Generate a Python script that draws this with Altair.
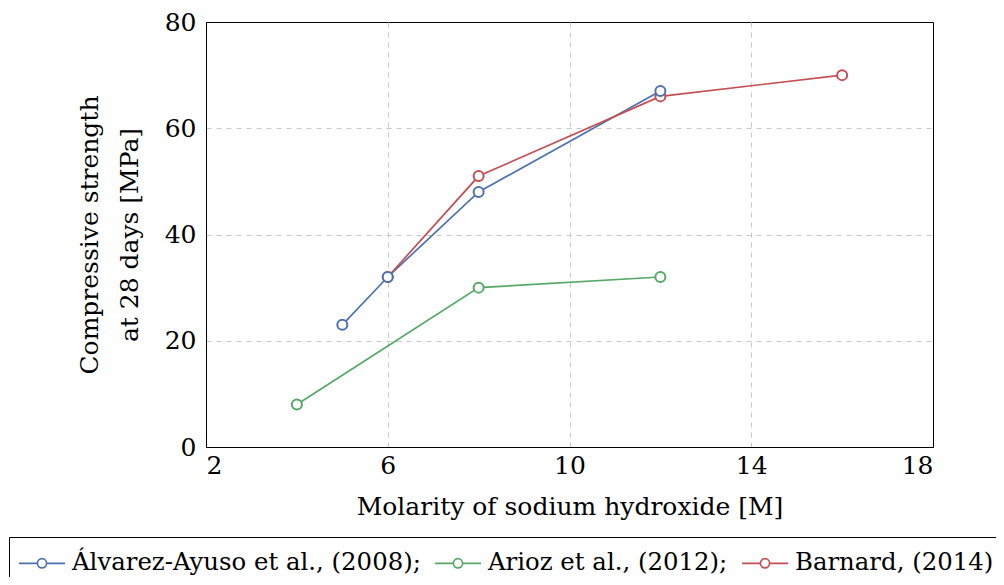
import altair as alt
import pandas as pd

series_names = ["Álvarez-Ayuso et al., (2008);", "Arioz et al., (2012);", "Barnard, (2014)"]
series_colors = ["#4c72b0", "#55a868", "#c44e52"]

alvarez_x = [5, 6, 8, 12]
alvarez_y = [23, 32, 48, 67]
arioz_x = [4, 8, 12]
arioz_y = [8, 30, 32]
barnard_x = [6, 8, 12, 16]
barnard_y = [32, 51, 66, 70]

x_ticks = [2, 6, 10, 14, 18]
y_ticks = [0, 20, 40, 60, 80]

rows = []
for name, xs, ys in [(series_names[0], alvarez_x, alvarez_y),
                     (series_names[1], arioz_x, arioz_y),
                     (series_names[2], barnard_x, barnard_y)]:
    for i, (xv, yv) in enumerate(zip(xs, ys)):
        rows.append({"series": name, "x": xv, "y": yv, "order": i})
df = pd.DataFrame(rows)

FONT = "DejaVu Serif"
FS = 25

color = alt.Color("series:N",
                  scale=alt.Scale(domain=series_names, range=series_colors),
                  legend=alt.Legend(title=None, orient="none", direction="horizontal",
                                    legendX=-197, legendY=515,
                                    symbolType="M-1,0L-0.2,0M0.2,0L1,0M0.2,0A0.2,0.2,0,1,1,-0.2,0A0.2,0.2,0,1,1,0.2,0",
                                    symbolSize=2116, symbolStrokeWidth=1.7,
                                    symbolFillColor="white", symbolOffset=7,
                                    labelFont=FONT, labelFontSize=24.4, labelLimit=0,
                                    labelOffset=6, columnPadding=6,
                                    padding=2, strokeColor="black", fillColor="white"))

x = alt.X("x:Q", scale=alt.Scale(domain=[2, 18], nice=False, zero=False),
          axis=alt.Axis(values=x_ticks, title="Molarity of sodium hydroxide [M]",
                        ticks=False, labelPadding=6, titlePadding=16,
                        gridDash=[5, 5], gridColor="#c8c8c8",
                        gridOpacity=alt.condition("datum.value == 2 || datum.value == 18",
                                                  alt.value(0), alt.value(1))))
y = alt.Y("y:Q", scale=alt.Scale(domain=[0, 80], nice=False),
          axis=alt.Axis(values=y_ticks, title=["Compressive strength", "at 28 days [MPa]"],
                        ticks=False, labelPadding=10, titlePadding=22, titleLineHeight=40,
                        gridDash=[5, 5], gridColor="#c8c8c8",
                        gridOpacity=alt.condition("datum.value == 0 || datum.value == 80",
                                                  alt.value(0), alt.value(1))))

base = alt.Chart(df).encode(x=x, y=y, color=color, order="order:Q")
lines = base.mark_line(strokeWidth=1.7)
points = base.mark_point(filled=False, fill="white", fillOpacity=1, size=100, strokeWidth=2, opacity=1)

chart = (lines + points).properties(
    width=727, height=425,
    autosize=alt.AutoSizeParams(type="none"),
    padding={"left": 198, "top": 14, "right": 63, "bottom": 130},
).configure_view(stroke="black", strokeWidth=1).configure_axis(
    labelFont=FONT, titleFont=FONT, labelFontSize=FS, titleFontSize=FS,
    titleFontWeight="normal", labelColor="black", titleColor="black",
    domainColor="black", domainWidth=1,
)

chart.save("out.html", embed_options={"renderer": "svg", "actions": False})
